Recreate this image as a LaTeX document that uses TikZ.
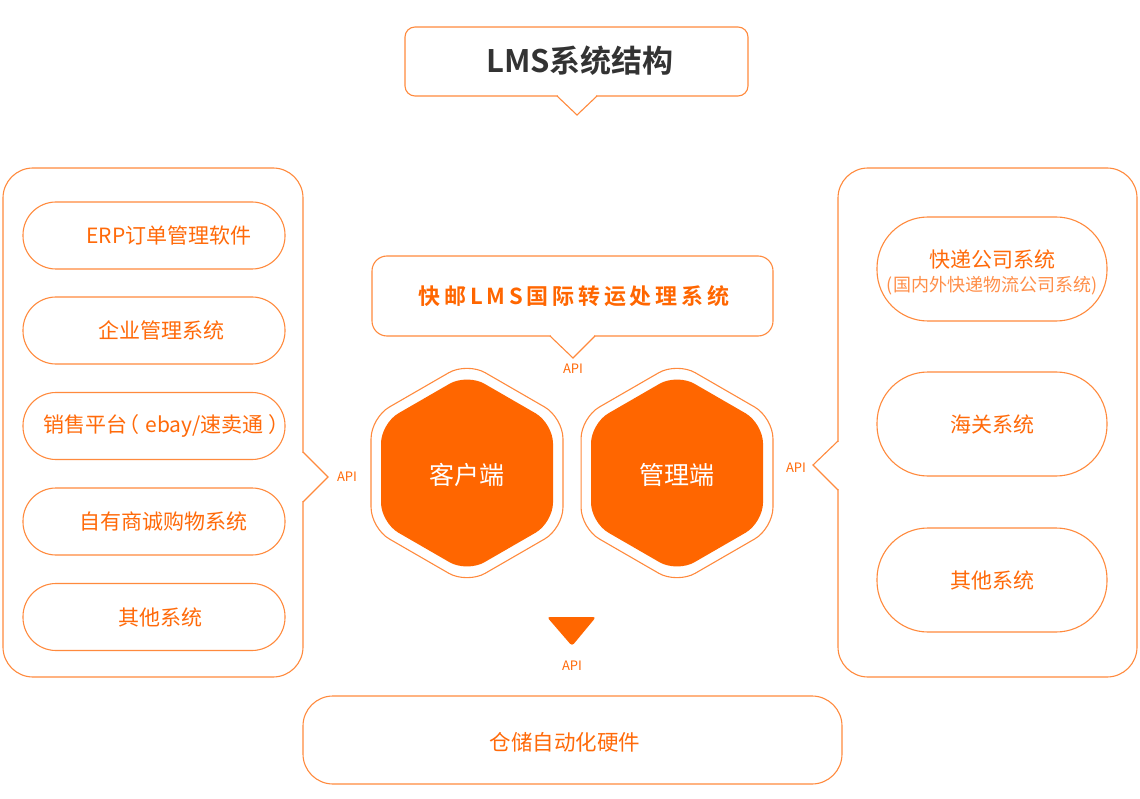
\documentclass[tikz,border=0pt]{standalone}
\usepackage{fontspec}
\setmainfont{Noto Sans CJK SC}[BoldFont={Noto Sans CJK SC Bold}]
\usetikzlibrary{calc}
\definecolor{orn}{HTML}{FF6600}
\definecolor{lor}{HTML}{FF8A3D}
\definecolor{tor}{HTML}{FF6A0A}
\definecolor{sor}{HTML}{FF8F4A}
\definecolor{dark}{HTML}{333333}
\begin{document}
\begin{tikzpicture}[x=1pt,y=-1pt,
  line/.style={draw=lor, line width=1.1pt},
  panel/.style={line, fill=white, rounded corners=30pt, inner sep=0pt},
  pillL/.style={line, rounded corners=33pt, minimum width=262pt, minimum height=67pt, inner sep=0pt},
  pillR/.style={line, rounded corners=51pt, minimum width=230pt, minimum height=104pt, inner sep=0pt},
  lbl/.style={text=tor, font=\fontsize{21}{24}\selectfont, inner sep=0pt},
  sublbl/.style={text=sor, font=\fontsize{18}{20}\selectfont, inner sep=0pt},
  api/.style={text=tor, font=\fontsize{13}{14}\selectfont, inner sep=0pt},
  hexo/.style={line, rounded corners=21pt},
  hexi/.style={fill=orn, rounded corners=20pt},
  hextxt/.style={text=white, font=\fontsize{25}{28}\selectfont, inner sep=0pt},
  erase/.style={fill=white, draw=none}
]
\useasboundingbox (0,0) rectangle (1140,799);

% ---------- title ----------
\node[line, fill=white, rounded corners=10pt, minimum width=343pt, minimum height=69pt, inner sep=0pt] (title) at (576.5,61.5) {};
\fill[erase] (558,94.5) rectangle (596,97.5);
\coordinate (tpa) at (557,96); \coordinate (tpt) at (577,115); \coordinate (tpb) at (597,96);
\draw[line] (tpa) -- (tpt) -- (tpb);
\node[text=dark, font=\bfseries\fontsize{31}{35}\selectfont, inner sep=0pt] (titletxt) at (580,61) {LMS系统结构};

% ---------- left panel ----------
\node[panel, minimum width=300pt, minimum height=509pt] (lp) at (153,422.5) {};
\fill[erase] (301.5,453) rectangle (304.5,501);
\coordinate (lpa) at (303,452); \coordinate (lpt) at (328,477); \coordinate (lpb) at (303,502);
\draw[line] (lpa) -- (lpt) -- (lpb);
\node[api] (apil) at (347,477) {API};

\node[pillL] (l1) at (154,235.5) {};
\node[pillL] (l2) at (154,330.5) {};
\node[pillL] (l3) at (154,426) {};
\node[pillL] (l4) at (154,521.5) {};
\node[pillL] (l5) at (154,617) {};
\node[lbl] (t1) at ($(l1)+(15,0)$) {ERP订单管理软件};
\node[lbl] (t2) at ($(l2)+(7,0)$) {企业管理系统};
\node[lbl] (t3) at ($(l3)+(7,0)$) {销售平台\hspace{2pt}{\addfontfeature{RawFeature=+halt}（}\hspace{6pt}ebay/速卖通\hspace{5pt}{\addfontfeature{RawFeature=+halt}）}};
\node[lbl] (t4) at ($(l4)+(9,0)$) {自有商诚购物系统};
\node[lbl] (t5) at ($(l5)+(6,0)$) {其他系统};

% ---------- right panel ----------
\node[panel, minimum width=299pt, minimum height=509pt] (rp) at (987.5,422.5) {};
\fill[erase] (836.5,442) rectangle (839.5,489);
\coordinate (rpa) at (838,441); \coordinate (rpt) at (813,465); \coordinate (rpb) at (838,490);
\draw[line] (rpa) -- (rpt) -- (rpb);
\node[api] (apir) at (796,468) {API};

\node[pillR] (r1) at (992,269) {};
\node[pillR] (r2) at (992,424) {};
\node[pillR] (r3) at (992,580) {};
\node[lbl] (rt1) at (992,260) {快递公司系统};
\node[sublbl] (rt1b) at (992,286) {(国内外快递物流公司系统)};
\node[lbl] (rt2) at (r2) {海关系统};
\node[lbl] (rt3) at (r3) {其他系统};

% ---------- center box ----------
\node[line, fill=white, rounded corners=15pt, minimum width=401pt, minimum height=80pt, inner sep=0pt] (cb) at (572.5,296) {};
\fill[erase] (551,334.5) rectangle (594,337.5);
\coordinate (cpa) at (550,336); \coordinate (cpt) at (573,358); \coordinate (cpb) at (595,336);
\draw[line] (cpa) -- (cpt) -- (cpb);
\node[text=orn, font=\bfseries\fontsize{22}{26}\selectfont\addfontfeature{LetterSpace=17}, inner sep=0pt] (cbt) at (574,296) {快邮LMS国际转运处理系统};
\node[api] (apic) at (573,369) {API};

% ---------- hexagons ----------
\foreach \cx/\nm/\txt in {467/kh/客户端, 677/gl/管理端}{
  \coordinate (\nm c) at (\cx,473);
  \draw[hexo] ($(\nm c)+(0:95.95)$) -- ($(\nm c)+(30:110.8)$) -- ($(\nm c)+(90:110.8)$) -- ($(\nm c)+(150:110.8)$) -- ($(\nm c)+(210:110.8)$) -- ($(\nm c)+(270:110.8)$) -- ($(\nm c)+(330:110.8)$) -- cycle;
  \fill[hexi] ($(\nm c)+(0:86)$) -- ($(\nm c)+(30:99.3)$) -- ($(\nm c)+(90:99.3)$) -- ($(\nm c)+(150:99.3)$) -- ($(\nm c)+(210:99.3)$) -- ($(\nm c)+(270:99.3)$) -- ($(\nm c)+(330:99.3)$) -- cycle;
  \node[hextxt] (\nm) at ($(\nm c)+(0,2)$) {\txt};
}

% ---------- down arrow ----------
\fill[orn, rounded corners=3pt] (547,617) -- (596,617) -- (572,646) -- cycle;
\node[api] (apib) at (572,666) {API};

% ---------- bottom box ----------
\node[line, rounded corners=30pt, minimum width=539pt, minimum height=88pt, inner sep=0pt] (bb) at (572.5,740) {};
\node[text=tor, font=\fontsize{21.5}{24}\selectfont, inner sep=0pt] (bbt) at (565,742) {仓储自动化硬件};

\end{tikzpicture}
\end{document}
